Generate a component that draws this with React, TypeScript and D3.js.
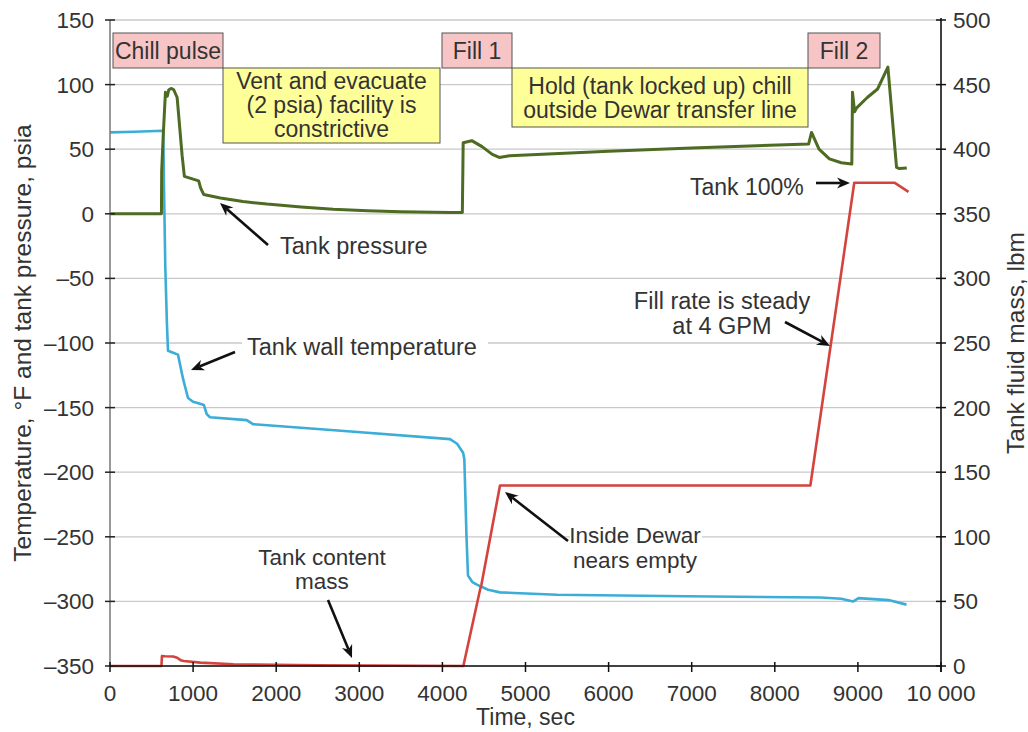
import React from 'react';
import * as d3 from 'd3';

// ---------- data ----------
const xTicks = [0, 1000, 2000, 3000, 4000, 5000, 6000, 7000, 8000, 9000, 10000];
const xTickLabels = ['0', '1000', '2000', '3000', '4000', '5000', '6000', '7000', '8000', '9000', '10 000'];
const leftTicks = [-350, -300, -250, -200, -150, -100, -50, 0, 50, 100, 150];
const leftTickLabels = ['–350', '–300', '–250', '–200', '–150', '–100', '–50', '0', '50', '100', '150'];
const rightTicks = [0, 50, 100, 150, 200, 250, 300, 350, 400, 450, 500];

// Tank pressure (psia), left axis
const pressureTime = [0, 619, 622, 640, 667, 690, 707, 740, 767, 808, 868, 895, 1067, 1090, 1127, 1328, 1600, 1889, 2300, 2686, 3100, 3492, 4093, 4240,
  4250, 4353, 4477, 4600, 4684, 4808, 6000, 7000, 8407, 8442, 8532, 8657, 8800, 8927, 8935, 8960, 8985, 9113, 9237, 9361, 9465, 9500, 9588];
const pressureValue = [0, 0, 33, 60, 94, 91, 96, 97, 96, 90, 45, 29, 25.5, 20, 15, 12.3, 9.5, 7.5, 5.3, 3.6, 2.4, 1.6, 1, 1,
  55, 56.6, 52, 46, 43.6, 45, 48.5, 51, 54, 63, 50, 42.5, 39.5, 38.5, 94, 79, 82, 90, 96.6, 113.5, 36, 35, 35.5];

// Tank wall temperature (°F), left axis
const tempTime = [0, 300, 627, 641, 650, 665, 685, 698, 760, 818, 880, 939, 1000, 1083, 1130, 1164, 1203, 1645, 1721, 2900, 4091, 4177, 4249,
  4264, 4290, 4308, 4360, 4415, 4550, 4693, 5379, 6925, 8552, 8800, 8944, 9008, 9369, 9585];
const tempValue = [63, 63.5, 64.3, 64, 20, -40, -85, -106, -107.5, -109, -128, -142.6, -145.5, -147, -148, -155, -157.5, -159.7, -162.8, -168.5, -174.4, -178, -185,
  -190, -250, -280, -285, -287, -291, -293, -294.8, -296, -297, -298, -300, -297.5, -299, -302.5];

// Tank fluid mass (lbm), right axis
const massTime = [0, 619, 625, 660, 760, 808, 850, 887, 1088, 1484, 2500, 4252, 4453, 4470, 4693, 8428, 8956, 9444, 9609];
const massValue = [0, 0, 7.7, 7.5, 7.4, 6.4, 4.5, 3.9, 2.6, 1.3, 0.5, 0, 59, 63, 139.7, 139.7, 374, 374, 367];

// ---------- layout ----------
const W = 1028, H = 732;
const L = 110, R = 941, T = 20, B = 666;
const FONT = '"Liberation Sans", Arial, Helvetica, sans-serif';
const TXT = '#333';

const x = d3.scaleLinear().domain([0, 10000]).range([L, R]);
const yL = d3.scaleLinear().domain([-350, 150]).range([B, T]);
const yR = d3.scaleLinear().domain([0, 500]).range([B, T]);

const zip = (a: number[], b: number[]) => a.map((t, i) => [t, b[i]] as [number, number]);
const lineL = d3.line<[number, number]>().x(d => x(d[0])).y(d => yL(d[1]));
const lineR = d3.line<[number, number]>().x(d => x(d[0])).y(d => yR(d[1]));

type Arrow = { x1: number; y1: number; x2: number; y2: number };
const arrows: Arrow[] = [
  { x1: 268, y1: 245, x2: 220, y2: 203 },
  { x1: 235, y1: 352, x2: 191, y2: 370 },
  { x1: 568, y1: 541, x2: 505, y2: 492 },
  { x1: 328, y1: 600, x2: 352, y2: 658 },
  { x1: 785, y1: 322, x2: 830, y2: 346 },
  { x1: 816, y1: 183, x2: 850, y2: 183 },
];

function ArrowShape({ a }: { a: Arrow }) {
  const ang = Math.atan2(a.y2 - a.y1, a.x2 - a.x1);
  const len = 13, half = 5.5;
  const bx = a.x2 - len * Math.cos(ang), by = a.y2 - len * Math.sin(ang);
  const px = -Math.sin(ang), py = Math.cos(ang);
  const mx = a.x2 - (len * 0.7) * Math.cos(ang), my = a.y2 - (len * 0.7) * Math.sin(ang);
  const head = `M${a.x2},${a.y2} L${bx + px * half},${by + py * half} L${mx},${my} L${bx - px * half},${by - py * half} Z`;
  return (
    <g>
      <line x1={a.x1} y1={a.y1} x2={mx} y2={my} stroke="#111" strokeWidth={2.6} />
      <path d={head} fill="#111" />
    </g>
  );
}

function Box({ x0, y0, x1, y1, fill, lines, baselines }: { x0: number; y0: number; x1: number; y1: number; fill: string; lines: string[]; baselines: number[] }) {
  return (
    <g>
      <rect x={x0} y={y0} width={x1 - x0} height={y1 - y0} fill={fill} stroke="#555" strokeWidth={1} />
      {lines.map((s, i) => (
        <text key={i} x={(x0 + x1) / 2} y={baselines[i]} textAnchor="middle" fontSize={23} fill={TXT}>{s}</text>
      ))}
    </g>
  );
}

export default function App() {
  const pressure = lineL(zip(pressureTime, pressureValue)) || '';
  const temp = lineL(zip(tempTime, tempValue)) || '';
  const mass = lineR(zip(massTime, massValue)) || '';
  return (
    <svg width={W} height={H} style={{ position: 'absolute', left: 0, top: 0, background: '#fff' }} fontFamily={FONT}>
      <rect x={0} y={0} width={W} height={H} fill="#fff" />
      {/* gridlines */}
      {leftTicks.map(v => (
        <line key={'g' + v} x1={L} x2={R} y1={yL(v)} y2={yL(v)} stroke="#c9c9c9" strokeWidth={1.3} />
      ))}
      {/* white backgrounds behind annotation text */}
      <rect x={242} y={333} width={246} height={28} fill="#fff" />
      <rect x={570} y={526} width={132} height={48} fill="#fff" />

      {/* series */}
      <path d={temp} fill="none" stroke="#3badd6" strokeWidth={2.6} strokeLinejoin="round" />
      <path d={mass} fill="none" stroke="#d4433e" strokeWidth={2.6} strokeLinejoin="round" />
      <path d={pressure} fill="none" stroke="#4d6b22" strokeWidth={3} strokeLinejoin="round" />

      {/* axes */}
      <line x1={L} x2={L} y1={T} y2={B} stroke="#777" strokeWidth={1.5} />
      <line x1={R} x2={R} y1={T - 2} y2={B + 6} stroke="#111" strokeWidth={1.6} />
      <line x1={L} x2={R} y1={B} y2={B} stroke="#111" strokeWidth={1.6} />
      {leftTicks.map((v, i) => (
        <g key={'l' + v}>
          <line x1={L - 5} x2={L + 5} y1={yL(v)} y2={yL(v)} stroke="#222" strokeWidth={1.5} />
          <text x={94} y={yL(v) + 8} textAnchor="end" fontSize={22.5} fill={TXT}>{leftTickLabels[i]}</text>
        </g>
      ))}
      {rightTicks.map(v => (
        <g key={'r' + v}>
          <line x1={R - 5} x2={R + 5} y1={yR(v)} y2={yR(v)} stroke="#111" strokeWidth={1.5} />
          <text x={953} y={yR(v) + 8} textAnchor="start" fontSize={22.5} fill={TXT}>{v}</text>
        </g>
      ))}
      {xTicks.map((v, i) => (
        <g key={'x' + v}>
          <line x1={x(v)} x2={x(v)} y1={B - 4} y2={B + 6} stroke="#111" strokeWidth={1.5} />
          <text x={x(v)} y={701} textAnchor="middle" fontSize={22.5} fill={TXT}>{xTickLabels[i]}</text>
        </g>
      ))}
      <text x={(L + R) / 2} y={725} textAnchor="middle" fontSize={23} fill={TXT}>Time, sec</text>
      <text transform={`translate(31,${(T + B) / 2}) rotate(-90)`} textAnchor="middle" fontSize={24.5} fill={TXT}>Temperature, °F and tank pressure, psia</text>
      <text transform={`translate(1024,${(T + B) / 2}) rotate(-90)`} textAnchor="middle" fontSize={24.5} fill={TXT}>Tank fluid mass, lbm</text>

      {/* phase boxes */}
      <Box x0={113} y0={33} x1={223} y1={68} fill="#f7c5c6" lines={['Chill pulse']} baselines={[59]} />
      <Box x0={223} y0={68} x1={440} y1={143} fill="#ffff99" lines={['Vent and evacuate', '(2 psia) facility is', 'constrictive']} baselines={[89, 113, 137]} />
      <Box x0={442} y0={33} x1={512} y1={68} fill="#f7c5c6" lines={['Fill 1']} baselines={[59]} />
      <Box x0={512} y0={68} x1={808} y1={127} fill="#ffff99" lines={['Hold (tank locked up) chill', 'outside Dewar transfer line']} baselines={[94, 118]} />
      <Box x0={808} y0={33} x1={880} y1={68} fill="#f7c5c6" lines={['Fill 2']} baselines={[59]} />

      {/* annotations */}
      <text x={280} y={254} fontSize={23.5} fill={TXT}>Tank pressure</text>
      <text x={247} y={355} fontSize={23.5} fill={TXT}>Tank wall temperature</text>
      <text x={635} y={543} textAnchor="middle" fontSize={22.5} fill={TXT}>Inside Dewar</text>
      <text x={635} y={568} textAnchor="middle" fontSize={22.5} fill={TXT}>nears empty</text>
      <text x={322} y={565} textAnchor="middle" fontSize={22.5} fill={TXT}>Tank content</text>
      <text x={322} y={589} textAnchor="middle" fontSize={22.5} fill={TXT}>mass</text>
      <text x={722} y={309} textAnchor="middle" fontSize={23.5} fill={TXT}>Fill rate is steady</text>
      <text x={722} y={334} textAnchor="middle" fontSize={23.5} fill={TXT}>at 4 GPM</text>
      <text x={690} y={195} fontSize={23} fill={TXT}>Tank 100%</text>
      {arrows.map((a, i) => <ArrowShape key={i} a={a} />)}
    </svg>
  );
}
